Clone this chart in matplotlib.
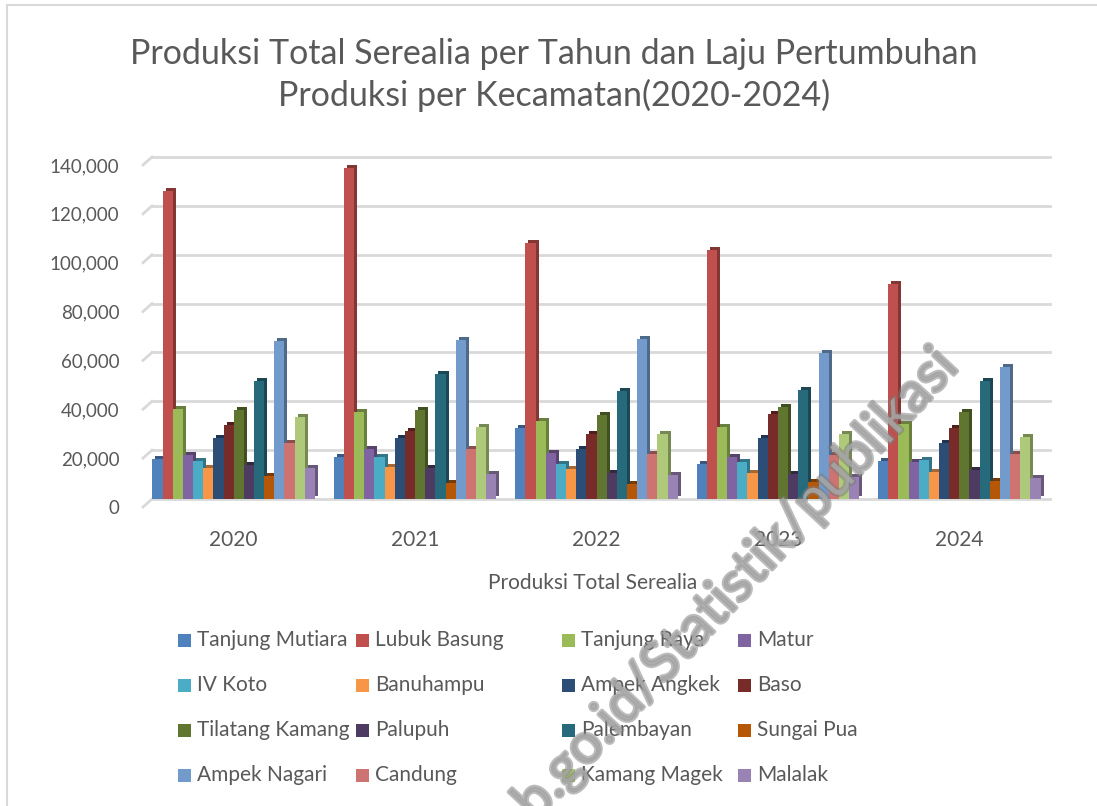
import numpy as np
import matplotlib.pyplot as plt
import matplotlib.patheffects as pe
from matplotlib.patches import Rectangle
from matplotlib.lines import Line2D
from matplotlib.transforms import ScaledTranslation

plt.rcParams['font.family'] = ['Lato', 'DejaVu Sans']

# Produksi total serealia per kecamatan (ton), 2020-2024
tahun = ['2020', '2021', '2022', '2023', '2024']

kecamatan = ['Tanjung Mutiara', 'Lubuk Basung', 'Tanjung Raya', 'Matur',
             'IV Koto', 'Banuhampu', 'Ampek Angkek', 'Baso',
             'Tilatang Kamang', 'Palupuh', 'Palembayan', 'Sungai Pua',
             'Ampek Nagari', 'Candung', 'Kamang Magek', 'Malalak']

tanjung_mutiara = [16500, 17000, 29000, 14500, 15500]
lubuk_basung = [126200, 135500, 105000, 101800, 88200]
tanjung_raya = [37000, 35500, 32000, 29500, 30800]
matur = [18000, 20500, 19000, 17000, 15000]
iv_koto = [15600, 17200, 14500, 15000, 15900]
banuhampu = [12600, 13000, 12200, 10500, 11200]
ampek_angkek = [25000, 25000, 20600, 25000, 22800]
baso = [30200, 27800, 26500, 35000, 29200]
tilatang_kamang = [36500, 36500, 34200, 37800, 35800]
palupuh = [13900, 12600, 10500, 10400, 11800]
palembayan = [48300, 51000, 44200, 44500, 48200]
sungai_pua = [9300, 6400, 6000, 7100, 7200]
ampek_nagari = [64500, 65100, 65500, 59600, 54000]
candung = [22800, 20300, 18300, 17900, 18500]
kamang_magek = [33600, 29500, 26500, 26800, 25500]
malalak = [12700, 10400, 9800, 9000, 8600]

nilai = [tanjung_mutiara, lubuk_basung, tanjung_raya, matur, iv_koto,
         banuhampu, ampek_angkek, baso, tilatang_kamang, palupuh,
         palembayan, sungai_pua, ampek_nagari, candung, kamang_magek, malalak]

warna = ['#4F81BD', '#C0504D', '#9BBB59', '#8064A2', '#4BACC6', '#F79646',
         '#2C4D75', '#772C2A', '#5F7530', '#4D3B62', '#276A7C', '#B65708',
         '#729ACA', '#CD7371', '#AFC97A', '#9983B5']

abu = '#595959'
W, H = 1097, 806

fig = plt.figure(figsize=(W / 100, H / 100), dpi=100)
fig.patch.set_facecolor('white')

# posisi plot (px)
x0, x1, ytop, ybot = 143, 1050, 157, 499
ax = fig.add_axes([x0 / W, 1 - ybot / H, (x1 - x0) / W, (ybot - ytop) / H])
ax.set_facecolor('none')

x = np.arange(len(tahun))
lebar = 0.056
n = len(kecamatan)
dx = 3 / ((x1 - x0) / 5)          # kedalaman 3D (x)
dy = 3 / (ybot - ytop) * 140000   # kedalaman 3D (y)

def gelap(c, f=0.68):
    r, g, b = [int(c[i:i + 2], 16) / 255 for i in (1, 3, 5)]
    return (r * f, g * f, b * f)

for i in range(n):
    pos = x + (i - (n - 1) / 2) * lebar
    vals = np.array(nilai[i])
    # sisi samping / atas (efek 3D)
    ax.bar(pos + dx, vals, width=lebar, bottom=dy, color=gelap(warna[i]),
           zorder=3 + 2 * i, linewidth=0)
    ax.bar(pos, vals, width=lebar, color=warna[i], zorder=4 + 2 * i,
           linewidth=0)

ax.set_xlim(-0.5, 4.5)
ax.set_ylim(0, 140000)
yt = np.arange(0, 140001, 20000)
ax.set_yticks(yt)
ax.set_yticklabels([f'{v:,.0f}' for v in yt])
ax.set_xticks(x)
ax.set_xticklabels(tahun)

# garis grid dengan sudut 3D di kiri
tr = ax.get_yaxis_transform()
g = 9 / (x1 - x0)
off = 8 / (ybot - ytop) * 140000
for v in yt:
    ax.plot([g, 1], [v, v], color='#D9D9D9', lw=2, transform=tr, zorder=1,
            clip_on=False)
    ax.plot([0, g], [v - off, v], color='#D9D9D9', lw=2, transform=tr,
            zorder=1, clip_on=False)

for s in ax.spines.values():
    s.set_visible(False)
ax.tick_params(length=0, labelsize=15, labelcolor=abu)
ax.tick_params(axis='y', pad=17, labelsize=13.5)
ax.tick_params(axis='x', pad=22)
geser = ScaledTranslation(0, -8 / 100, fig.dpi_scale_trans)
for lab in ax.get_yticklabels():
    lab.set_transform(lab.get_transform() + geser)

fig.text(593 / W, 1 - 583 / H, 'Produksi Total Serealia', ha='center',
         va='center', fontsize=15, color=abu)

fig.text(554 / W, 1 - 75 / H,
         'Produksi Total Serealia per Tahun dan Laju Pertumbuhan\n'
         'Produksi per Kecamatan(2020-2024)',
         ha='center', va='center', fontsize=24.5, color=abu, linespacing=1.35)

# legenda 4 kolom
kol_x = [178, 356, 562, 738]
baris_y = [640, 685, 730, 775]
for i, nama in enumerate(kecamatan):
    cx = kol_x[i % 4]
    cy = baris_y[i // 4]
    fig.patches.append(Rectangle((cx / W, 1 - (cy + 6.5) / H), 13 / W, 13 / H,
                                 transform=fig.transFigure,
                                 facecolor=warna[i], edgecolor='none'))
    fig.text((cx + 19) / W, 1 - cy / H, nama, ha='left', va='center',
             fontsize=15, color=abu)

# bingkai
fig.add_artist(Line2D([7 / W, 1], [1 - 5 / H, 1 - 5 / H], color='#D9D9D9',
                      lw=1.5, transform=fig.transFigure))
fig.add_artist(Line2D([7 / W, 7 / W], [0, 1 - 5 / H], color='#D9D9D9',
                      lw=1.5, transform=fig.transFigure))

# watermark (terpotong di tepi bawah seperti aslinya)
fig.text(960 / W, 1 - 368 / H, 'b.go.id/Statistik/publikasi', ha='right',
         va='baseline', rotation=47, rotation_mode='anchor', fontsize=40,
         color='#a8a8a8', alpha=0.8, zorder=50,
         path_effects=[pe.withStroke(linewidth=3, foreground='#7a7a7a',
                                     alpha=0.5)])

fig.savefig('out.png', dpi=100)
